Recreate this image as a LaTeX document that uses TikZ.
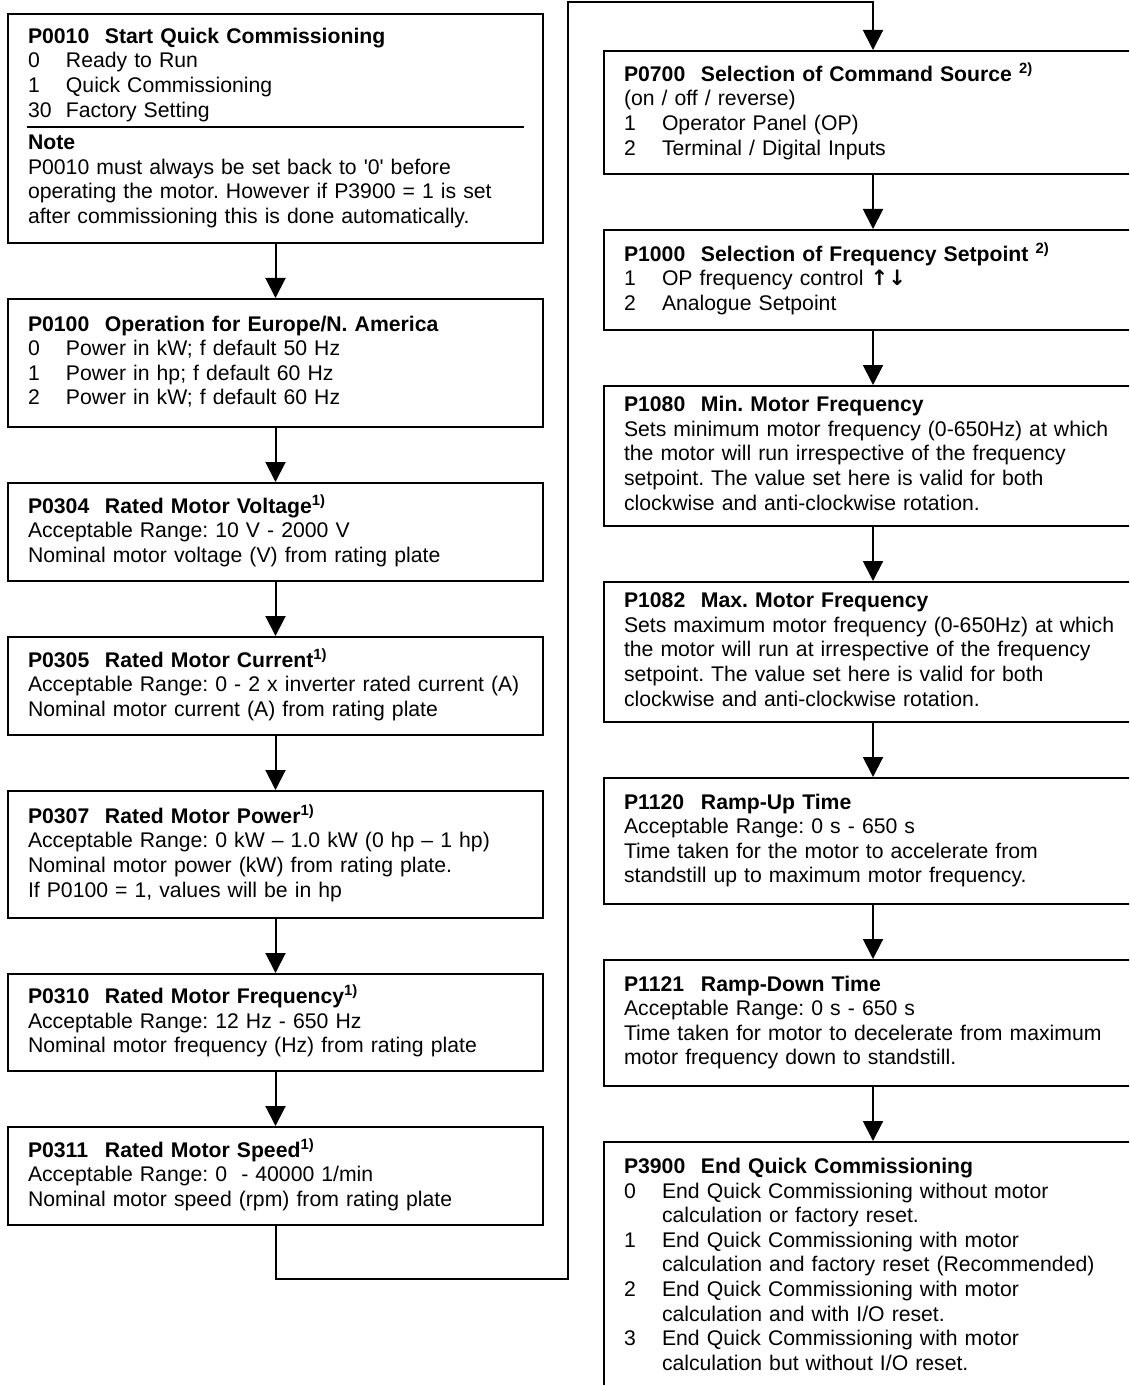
\documentclass[tikz,border=0pt]{standalone}
\usepackage{fontspec}
\newfontfamily\arialfont{Liberation Sans}
\newfontfamily\arrowfont{DejaVu Sans}
\usepackage{tikz}
\usetikzlibrary{arrows.meta, positioning}

\newcommand{\parno}[1]{\makebox[38.5pt][l]{#1}}
\newcommand{\itemno}[1]{\makebox[19pt][l]{#1}}

\begin{document}
\begin{tikzpicture}[
    x = 0.5pt, y = -0.5pt,
    node distance = 27pt,
    box/.style     = {draw, line width=1pt, inner xsep=10pt, inner ysep=2pt,
                      align=left, font=\arialfont\frenchspacing\fontsize{10.6pt}{12.3pt}\selectfont,
                      execute at begin node=\strut, execute at end node=\strut},
    lbox/.style    = {box, text width=247.5pt},
    rbox/.style    = {box, text width=249pt},
    arr/.style     = {-{Triangle[length=10pt, width=10pt]}, line width=1pt},
    sepline/.style = {line width=1pt},
]

\useasboundingbox (0,0) rectangle (1129,1385);
\clip (0,0) rectangle (1129,1385);

%% ── Left column ─────────────────────────────────────────────────────────────
\node[lbox, minimum height=114.5pt, anchor=north west] (p0010) at (7,13)
    {\textbf{\parno{P0010}Start Quick Commissioning}\\
     \itemno{0}Ready to Run\\
     \itemno{1}Quick Commissioning\\
     \itemno{30}Factory Setting\\[4pt]
     \textbf{Note}\\
     P0010 must always be set back to '0' before\\
     operating the motor. However if P3900 = 1 is set\\
     after commissioning this is done automatically.};
\node[lbox, minimum height=64pt, below=of p0010] (p0100)
    {\textbf{\parno{P0100}Operation for Europe/N. America}\\
     \itemno{0}Power in kW; f default 50 Hz\\
     \itemno{1}Power in hp; f default 60 Hz\\
     \itemno{2}Power in kW; f default 60 Hz};
\node[lbox, minimum height=49pt, below=of p0100] (p0304)
    {\textbf{\parno{P0304}Rated Motor Voltage\textsuperscript{1)}}\\
     Acceptable Range: 10 V - 2000 V\\
     Nominal motor voltage (V) from rating plate};
\node[lbox, minimum height=49pt, below=of p0304] (p0305)
    {\textbf{\parno{P0305}Rated Motor Current\textsuperscript{1)}}\\
     Acceptable Range: 0 - 2 x inverter rated current (A)\\
     Nominal motor current (A) from rating plate};
\node[lbox, minimum height=63.5pt, below=of p0305] (p0307)
    {\textbf{\parno{P0307}Rated Motor Power\textsuperscript{1)}}\\
     Acceptable Range: 0 kW – 1.0 kW (0 hp – 1 hp)\\
     Nominal motor power (kW) from rating plate.\\
     If P0100 = 1, values will be in hp};
\node[lbox, minimum height=48.5pt, below=of p0307] (p0310)
    {\textbf{\parno{P0310}Rated Motor Frequency\textsuperscript{1)}}\\
     Acceptable Range: 12 Hz - 650 Hz\\
     Nominal motor frequency (Hz) from rating plate};
\node[lbox, minimum height=49pt, below=of p0310] (p0311)
    {\textbf{\parno{P0311}Rated Motor Speed\textsuperscript{1)}}\\
     Acceptable Range: 0~ - 40000 1/min\\
     Nominal motor speed (rpm) from rating plate};

%% ── Right column ────────────────────────────────────────────────────────────
\node[rbox, minimum height=61.5pt, anchor=north west] (p0700) at (603,50)
    {\textbf{\parno{P0700}Selection of Command Source \textsuperscript{2)}}\\
     (on / off / reverse)\\
     \itemno{1}Operator Panel (OP)\\
     \itemno{2}Terminal / Digital Inputs};
\node[rbox, minimum height=50pt, below=of p0700] (p1000)
    {\textbf{\parno{P1000}Selection of Frequency Setpoint \textsuperscript{2)}}\\
     \itemno{1}OP frequency control {\arrowfont\bfseries ↑↓}\\
     \itemno{2}Analogue Setpoint};
\node[rbox, minimum height=70pt, below=of p1000] (p1080)
    {\textbf{\parno{P1080}Min. Motor Frequency}\\
     Sets minimum motor frequency (0-650Hz) at which\\
     the motor will run irrespective of the frequency\\
     setpoint. The value set here is valid for both\\
     clockwise and anti-clockwise rotation.};
\node[rbox, minimum height=70pt, below=of p1080] (p1082)
    {\textbf{\parno{P1082}Max. Motor Frequency}\\
     Sets maximum motor frequency (0-650Hz) at which\\
     the motor will run at irrespective of the frequency\\
     setpoint. The value set here is valid for both\\
     clockwise and anti-clockwise rotation.};
\node[rbox, minimum height=63pt, below=of p1082] (p1120)
    {\textbf{\parno{P1120}Ramp-Up Time}\\
     Acceptable Range: 0 s - 650 s\\
     Time taken for the motor to accelerate from\\
     standstill up to maximum motor frequency.};
\node[rbox, minimum height=63pt, below=of p1120] (p1121)
    {\textbf{\parno{P1121}Ramp-Down Time}\\
     Acceptable Range: 0 s - 650 s\\
     Time taken for motor to decelerate from maximum\\
     motor frequency down to standstill.};
\node[rbox, minimum height=125pt, below=of p1121] (p3900)
    {\textbf{\parno{P3900}End Quick Commissioning}\\
     \itemno{0}End Quick Commissioning without motor\\
     \itemno{}calculation or factory reset.\\
     \itemno{1}End Quick Commissioning with motor\\
     \itemno{}calculation and factory reset (Recommended)\\
     \itemno{2}End Quick Commissioning with motor\\
     \itemno{}calculation and with I/O reset.\\
     \itemno{3}End Quick Commissioning with motor\\
     \itemno{}calculation but without I/O reset.};

%% ── Separator under the P0010 options ───────────────────────────────────────
\draw[sepline] ([xshift=10pt, yshift=-57pt]p0010.north west)
            -- ([xshift=-10pt, yshift=-57pt]p0010.north east);

%% ── Arrows down the left column ─────────────────────────────────────────────
\draw[arr] (p0010.south) -- (p0100.north);
\draw[arr] (p0100.south) -- (p0304.north);
\draw[arr] (p0304.south) -- (p0305.north);
\draw[arr] (p0305.south) -- (p0307.north);
\draw[arr] (p0307.south) -- (p0310.north);
\draw[arr] (p0310.south) -- (p0311.north);

%% ── Jump from the left column to the right one ──────────────────────────────
\coordinate (jogbot) at (568,1279);
\coordinate (jogtop) at (568,2);
\draw[arr] (p0311.south) |- (jogbot) -- (jogtop) -| (p0700.north);

%% ── Arrows down the right column ────────────────────────────────────────────
\draw[arr] (p0700.south) -- (p1000.north);
\draw[arr] (p1000.south) -- (p1080.north);
\draw[arr] (p1080.south) -- (p1082.north);
\draw[arr] (p1082.south) -- (p1120.north);
\draw[arr] (p1120.south) -- (p1121.north);
\draw[arr] (p1121.south) -- (p3900.north);

\end{tikzpicture}
\end{document}
